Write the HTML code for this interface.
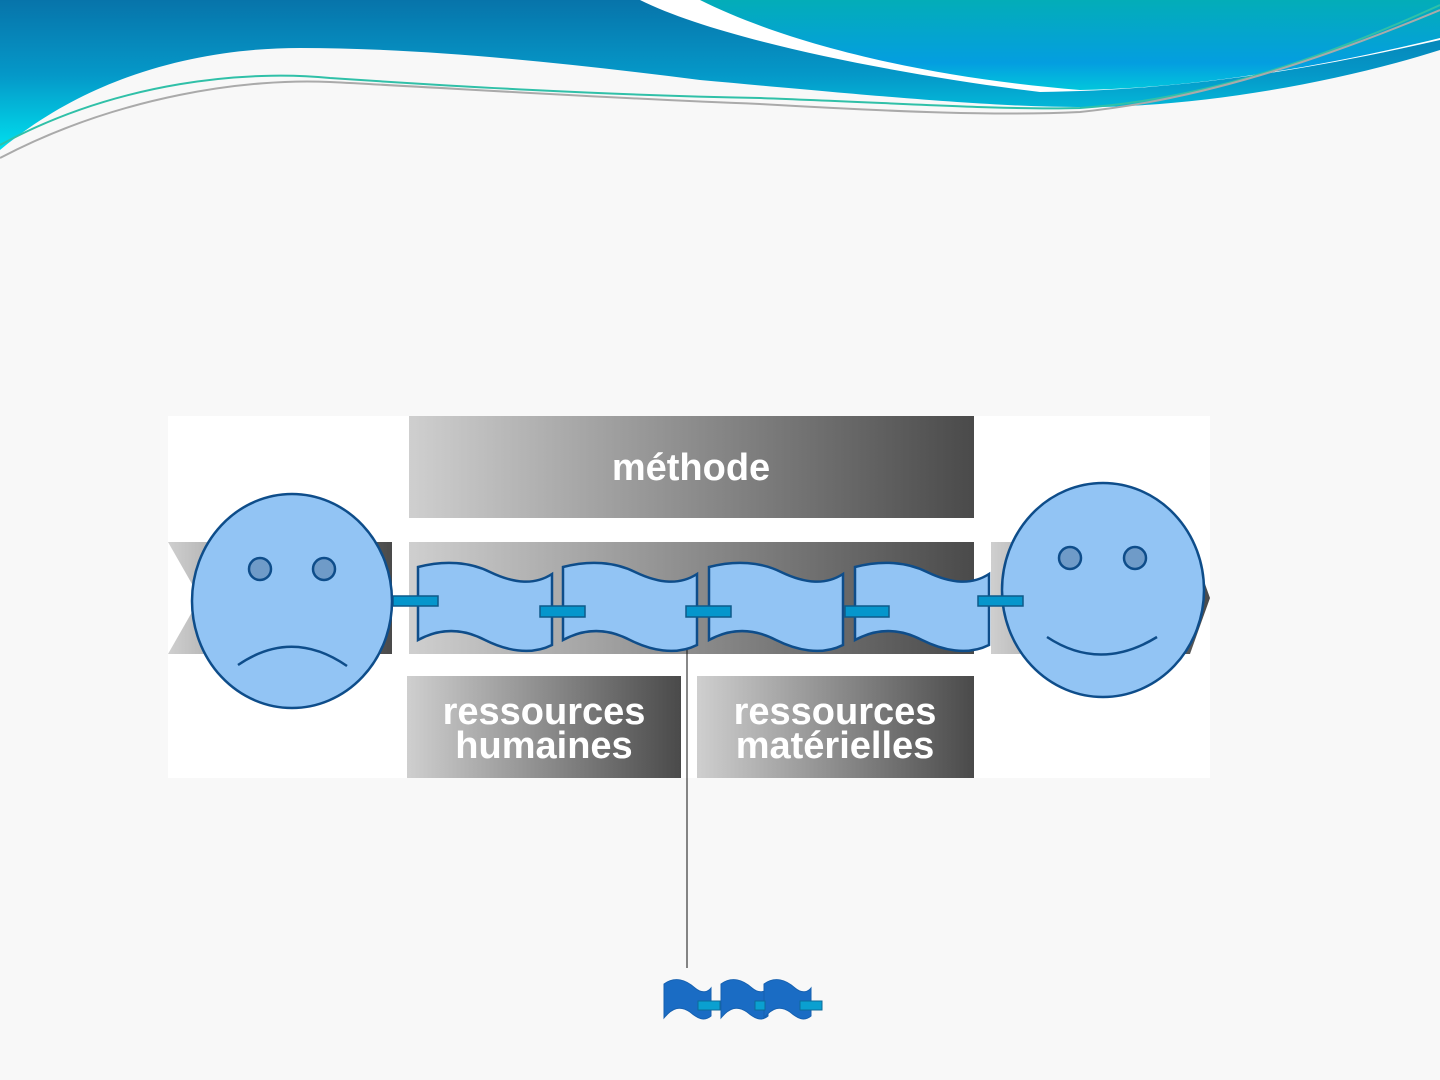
<!DOCTYPE html>
<html><head><meta charset="utf-8"><style>
html,body{margin:0;padding:0;background:#f8f8f8;}
svg{display:block}
</style></head><body>
<svg width="1440" height="1080" viewBox="0 0 1440 1080" xmlns="http://www.w3.org/2000/svg" font-family="Liberation Sans, Arial, sans-serif">
<defs>
<linearGradient id="hdr" x1="0" y1="0" x2="0" y2="1">
<stop offset="0" stop-color="#0774aa"/><stop offset="0.5" stop-color="#0598c8"/><stop offset="1" stop-color="#00e0ee"/></linearGradient>
<linearGradient id="hdr2" x1="0" y1="0" x2="0" y2="1">
<stop offset="0" stop-color="#03adb8"/><stop offset="0.7" stop-color="#049ee0"/><stop offset="1" stop-color="#02c6dc"/></linearGradient>
<linearGradient id="gb" x1="0" y1="0" x2="1" y2="0">
<stop offset="0" stop-color="#cfcfcf"/><stop offset="1" stop-color="#4a4a4a"/></linearGradient>
</defs>
<rect width="1440" height="1080" fill="#f8f8f8"/>
<!-- header -->
<path d="M0,0 L1440,0 L1440,50 C1330,85 1200,105 1100,107 C1000,108 900,98 700,80 C560,62 420,48 300,48 C200,48 90,75 0,150 Z" fill="url(#hdr)"/>
<path d="M640,0 C720,40 900,75 1040,92 C1200,90 1330,65 1440,40 L1440,0 Z" fill="#fff"/>
<path d="M700,0 C790,45 930,78 1080,90 C1200,88 1330,65 1440,38 L1440,0 Z" fill="url(#hdr2)"/>
<path d="M0,145 C120,80 250,70 330,78 C450,86 600,95 760,98 C900,103 1000,110 1080,108 C1200,100 1320,60 1440,5" fill="none" stroke="#30c0a8" stroke-width="2"/>
<path d="M0,158 C120,95 250,78 330,82 C450,88 600,98 760,104 C900,112 1000,116 1080,112 C1200,100 1320,60 1440,10" fill="none" stroke="#aaa" stroke-width="2"/>
<!-- diagram image -->
<rect x="168" y="416" width="1042" height="362" fill="#fff"/>
<rect x="409" y="416" width="565" height="102" fill="url(#gb)"/>
<text x="691" y="480" text-anchor="middle" font-size="38" font-weight="bold" fill="#fff">méthode</text>
<rect x="409" y="542" width="565" height="112" fill="url(#gb)"/>
<path d="M168,542 L392,542 L392,654 L168,654 L200,598 Z" fill="url(#gb)"/>
<path d="M991,542 L1190,542 L1210,598 L1190,654 L991,654 Z" fill="url(#gb)"/>
<rect x="407" y="676" width="274" height="102" fill="url(#gb)"/>
<rect x="697" y="676" width="277" height="102" fill="url(#gb)"/>
<g font-size="38" font-weight="bold" fill="#fff" text-anchor="middle">
<text x="544" y="724">ressources</text>
<text x="544" y="758">humaines</text>
<text x="835" y="724">ressources</text>
<text x="835" y="758">matérielles</text>
</g>
<!-- vertical line -->
<line x1="687" y1="640" x2="687" y2="968" stroke="#111" stroke-width="1"/>
<!-- flags -->
<g fill="#92c4f4" stroke="#0e4d8a" stroke-width="2.5">
<path d="M418,567 C445,560 470,562 490,572 C515,584 535,585 552,574 L552,645 C530,656 505,650 485,640 C462,628 440,628 418,640 Z"/>
<path d="M563,567 C590,560 615,562 635,572 C660,584 680,585 697,574 L697,645 C675,656 650,650 630,640 C607,628 585,628 563,640 Z"/>
<path d="M709,567 C736,560 761,562 781,572 C806,584 826,585 843,574 L843,645 C821,656 796,650 776,640 C753,628 731,628 709,640 Z"/>
<path d="M855,567 C882,560 907,562 927,572 C952,584 972,585 989,574 L989,645 C967,656 942,650 922,640 C899,628 877,628 855,640 Z"/>
</g>
<g fill="#0596cc" stroke="#0e5a8a" stroke-width="1.5">
<rect x="393" y="596" width="45" height="10"/>
<rect x="540" y="606" width="45" height="11"/>
<rect x="686" y="606" width="45" height="11"/>
<rect x="845" y="606" width="44" height="11"/>
</g>
<!-- faces -->
<g stroke="#0e4d8a" stroke-width="2.5">
<ellipse cx="292" cy="601" rx="100" ry="107" fill="#92c4f4"/>
<circle cx="260" cy="569" r="11" fill="#6f9bc8"/>
<circle cx="324" cy="569" r="11" fill="#6f9bc8"/>
<path d="M238,665 Q292,628 347,666" fill="none"/>
<ellipse cx="1103" cy="590" rx="101" ry="107" fill="#92c4f4"/>
<circle cx="1070" cy="558" r="11" fill="#6f9bc8"/>
<circle cx="1135" cy="558" r="11" fill="#6f9bc8"/>
<path d="M1047,637 Q1100,672 1157,637" fill="none"/>
</g>
<rect x="978" y="596" width="45" height="10" fill="#0596cc" stroke="#0e5a8a" stroke-width="1.5"/>
<!-- small flags -->
<g fill="#1a6cc4" stroke="#1560b0" stroke-width="1">
<path d="M664,984 C675,976 686,980 695,988 C702,994 708,992 711,988 L711,1016 C704,1022 697,1018 690,1012 C680,1005 672,1008 664,1018 Z"/>
<path d="M721,984 C732,976 743,980 752,988 C759,994 765,992 768,988 L768,1016 C761,1022 754,1018 747,1012 C737,1005 729,1008 721,1018 Z"/>
<path d="M764,984 C775,976 786,980 795,988 C802,994 808,992 811,988 L811,1016 C804,1022 797,1018 790,1012 C780,1005 772,1008 764,1018 Z"/>
</g>
<g fill="#0aa0d0" stroke="#0e6a9a" stroke-width="1">
<rect x="698" y="1001" width="22" height="9"/>
<rect x="755" y="1001" width="10" height="9"/>
<rect x="800" y="1001" width="22" height="9"/>
</g>
</svg>
</body></html>
